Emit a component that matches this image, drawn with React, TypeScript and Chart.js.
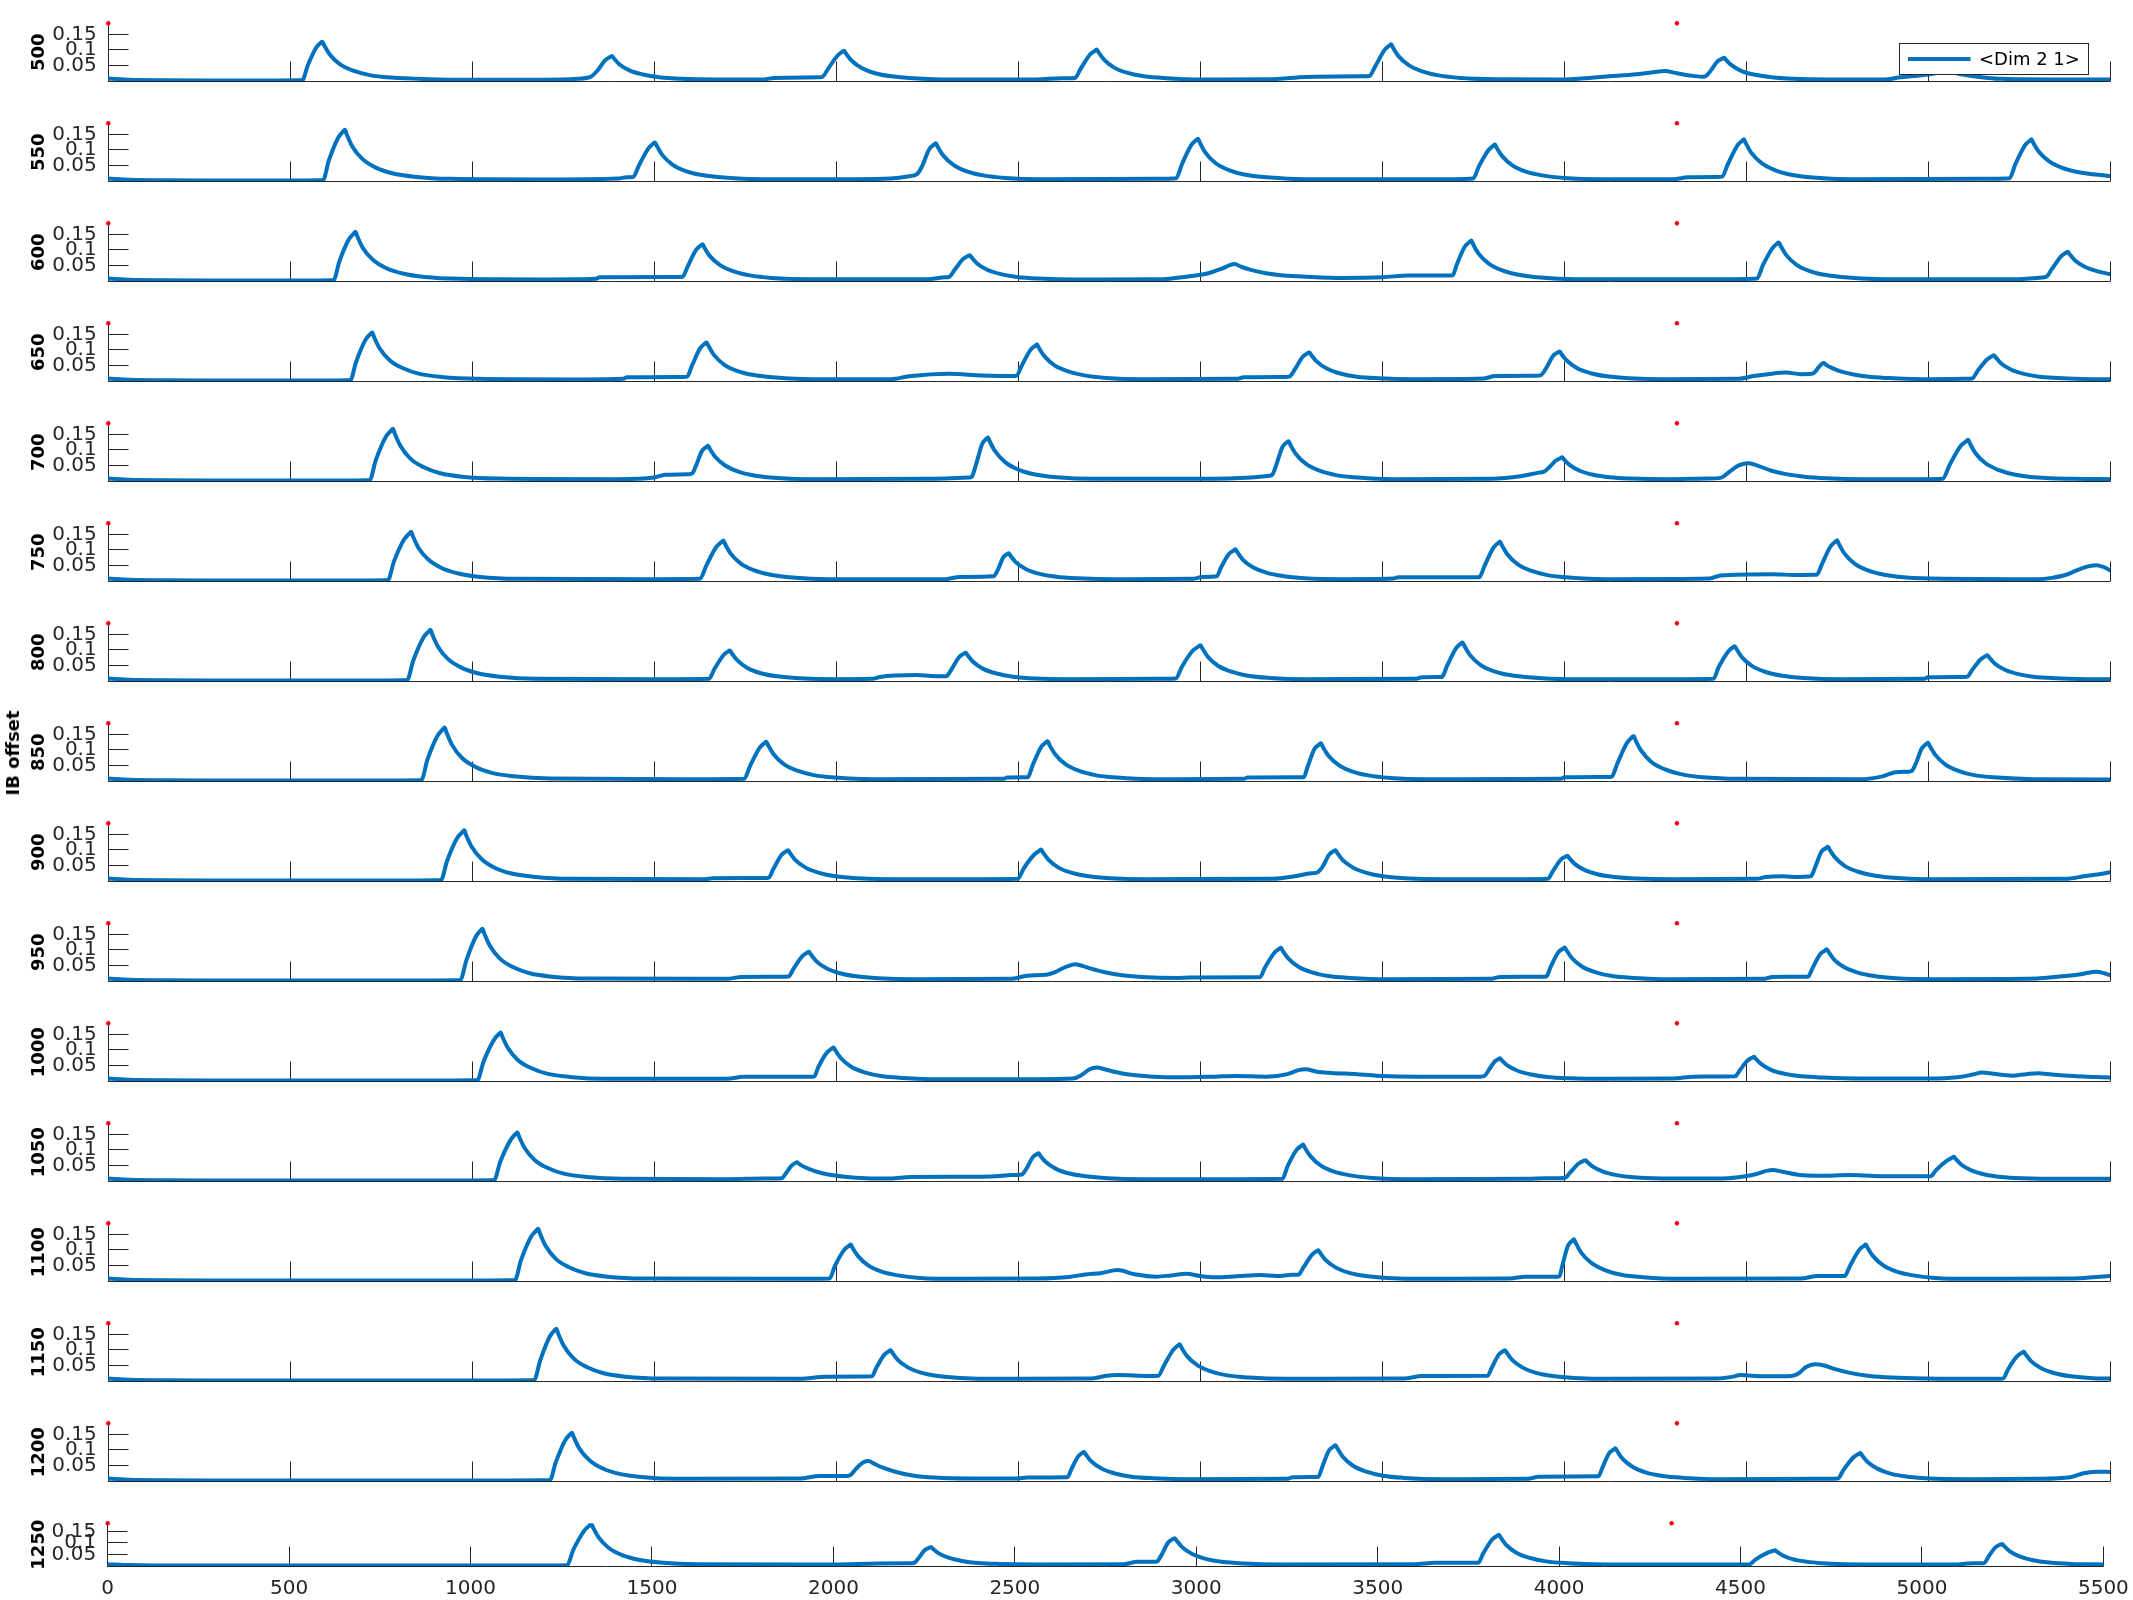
import React, { useEffect, useRef } from 'react';
import { Chart, registerables } from 'chart.js';

Chart.register(...registerables);

// ---------- data ----------
const PANEL_OFFSETS = [500, 550, 600, 650, 700, 750, 800, 850, 900, 950, 1000, 1050, 1100, 1150, 1200, 1250];
const X_TICKS = [0, 500, 1000, 1500, 2000, 2500, 3000, 3500, 4000, 4500, 5000, 5500];
const X_TICK_LABELS = ['0', '500', '1000', '1500', '2000', '2500', '3000', '3500', '4000', '4500', '5000', '5500'];
const Y_TICKS = [0.05, 0.1, 0.15];
const Y_TICK_LABELS = ['0.05', '0.1', '0.15'];
const X_MAX = 5500;
const Y_MAX = 0.1855;
const MARKER_X = [0, 4310];
const SERIES_NAME = '<Dim 2 1>';
const AXIS_TITLE = 'IB offset';

const S500 = [
[0,.008],[60,.004],[150,.0025],[300,.002],[470,.002],
[533,.003],[548,.05],[571,.107],[583,.122],[588,.126],[593,.115],[608,.086],[636,.054],[673,.033],[718,.019],[778,.011],[878,.006],
[1000,.004],[1200,.004],
[1290,.007],[1325,.013],[1345,.035],[1366,.068],[1379,.077],[1384,.080],[1389,.073],[1404,.054],[1432,.034],[1469,.021],[1514,.012],[1574,.007],[1674,.005],
[1800,.005],[1830,.010],[1955,.012],
[1962,.013],[1978,.04],[2004,.082],[2017,.094],[2022,.097],[2027,.088],[2042,.066],[2070,.042],[2107,.025],[2152,.015],[2212,.009],[2312,.005],
[2550,.005],[2620,.009],
[2656,.010],[2672,.04],[2698,.086],[2711,.097],[2716,.101],[2721,.092],[2736,.069],[2764,.043],[2801,.026],[2846,.015],[2906,.009],[3006,.005],
[3200,.006],[3290,.013],[3450,.015],
[3465,.016],[3481,.047],[3507,.1],[3520,.114],[3525,.118],[3530,.107],[3545,.08],[3573,.051],[3610,.031],[3655,.018],[3715,.010],[3815,.006],
[4000,.005],[4040,.007],
[4110,.014],[4200,.022],[4245,.028],[4276,.032],[4310,.025],[4345,.018],[4380,.014],
[4390,.016],[4404,.035],[4422,.064],[4435,.072],[4440,.075],[4445,.068],[4460,.051],[4488,.032],[4525,.02],[4570,.012],[4630,.007],[4730,.005],
[4880,.005],[4925,.012],[4960,.016],[5000,.021],[5050,.03],[5090,.022],[5120,.016],[5165,.01],[5200,.007],[5350,.005],[5500,.005]
];

const S550 = [
[0,.008],[60,.004],[150,.0025],[300,.002],[540,.002],
[590,.003],[606,.066],[632,.14],[645,.159],[650,.165],[655,.150],[670,.112],[698,.071],[735,.043],[780,.025],[840,.014],[940,.007],
[1200,.005],[1400,.008],[1425,.012],
[1442,.013],[1458,.05],[1484,.105],[1497,.12],[1502,.124],[1507,.113],[1522,.084],[1550,.053],[1587,.032],[1632,.019],[1692,.011],[1792,.006],
[2050,.006],[2150,.008],[2200,.015],[2222,.022],
[2235,.045],[2256,.103],[2269,.117],[2274,.121],[2279,.11],[2294,.082],[2322,.052],[2359,.031],[2404,.018],[2464,.01],[2564,.006],
[2880,.007],
[2934,.009],[2950,.054],[2976,.116],[2989,.131],[2994,.136],[2999,.124],[3014,.092],[3042,.058],[3079,.035],[3124,.020],[3184,.012],[3284,.006],
[3700,.006],
[3750,.008],[3766,.047],[3792,.099],[3805,.113],[3810,.117],[3815,.106],[3830,.08],[3858,.05],[3895,.03],[3940,.018],[4000,.01],[4100,.006],
[4300,.006],[4340,.012],[4420,.013],
[4434,.014],[4450,.054],[4476,.114],[4489,.129],[4494,.134],[4499,.122],[4514,.091],[4542,.058],[4579,.035],[4624,.02],[4684,.011],[4784,.006],
[5150,.007],
[5224,.009],[5240,.054],[5266,.114],[5279,.129],[5284,.134],[5289,.123],[5304,.095],[5332,.064],[5369,.042],[5414,.028],[5474,.019],[5500,.016]
];

const S600 = [
[0,.008],[60,.004],[150,.0025],[300,.002],[580,.002],
[619,.003],[635,.063],[661,.134],[674,.152],[679,.158],[684,.144],[699,.107],[727,.068],[764,.041],[809,.024],[869,.013],[969,.007],
[1200,.005],[1340,.007],[1350,.012],[1560,.013],
[1578,.014],[1592,.047],[1615,.1],[1628,.114],[1633,.118],[1638,.107],[1653,.08],[1681,.051],[1718,.031],[1763,.018],[1823,.01],[1923,.006],
[2250,.006],[2300,.012],
[2310,.013],[2325,.035],[2349,.071],[2362,.08],[2367,.083],[2372,.076],[2387,.056],[2415,.036],[2452,.022],[2497,.013],[2557,.008],[2657,.005],
[2900,.006],[2950,.012],[3020,.024],[3060,.04],
[3080,.05],[3094,.055],[3114,.045],[3142,.035],[3180,.025],[3230,.018],[3290,.014],[3390,.010],
[3500,.012],[3575,.018],[3690,.018],
[3695,.02],[3705,.052],[3727,.11],[3740,.125],[3745,.130],[3750,.118],[3765,.088],[3793,.056],[3830,.034],[3875,.02],[3935,.011],[4035,.006],
[4470,.006],
[4530,.008],[4546,.05],[4572,.105],[4585,.12],[4590,.124],[4595,.113],[4610,.084],[4638,.053],[4675,.032],[4720,.019],[4780,.011],[4880,.006],
[5250,.006],[5300,.010],
[5324,.013],[5340,.038],[5366,.08],[5379,.091],[5384,.094],[5389,.086],[5404,.066],[5432,.045],[5469,.03],[5500,.022]
];

const S650 = [
[0,.008],[60,.004],[150,.0025],[300,.002],[620,.002],
[665,.003],[681,.062],[707,.133],[720,.151],[725,.156],[730,.142],[745,.106],[773,.067],[810,.041],[855,.023],[915,.013],[1015,.007],
[1300,.005],[1415,.007],[1425,.012],[1580,.013],
[1590,.014],[1604,.05],[1626,.105],[1639,.12],[1644,.124],[1649,.113],[1664,.084],[1692,.053],[1729,.032],[1774,.019],[1834,.011],[1934,.006],
[2150,.006],[2200,.015],[2310,.023],[2400,.018],[2480,.016],
[2495,.017],[2510,.05],[2534,.1],[2547,.113],[2552,.117],[2557,.106],[2572,.08],[2600,.05],[2637,.031],[2682,.018],[2742,.01],[2842,.006],
[3100,.007],[3120,.012],[3235,.013],
[3245,.014],[3260,.037],[3282,.078],[3295,.089],[3300,.092],[3305,.084],[3320,.063],[3348,.04],[3385,.024],[3430,.014],[3490,.009],[3590,.006],
[3780,.008],[3810,.016],[3925,.017],
[3935,.018],[3950,.04],[3970,.081],[3983,.092],[3988,.095],[3993,.086],[4008,.065],[4036,.041],[4073,.025],[4118,.015],[4178,.009],[4278,.006],
[4480,.007],[4520,.016],[4560,.022],[4610,.027],[4650,.022],[4680,.023],
[4690,.03],[4700,.045],[4709,.056],[4714,.058],[4719,.053],[4734,.043],[4762,.03],[4799,.02],[4844,.013],[4904,.009],[5004,.006],
[5100,.007],
[5121,.008],[5137,.034],[5163,.07],[5176,.08],[5181,.083],[5186,.076],[5201,.056],[5229,.036],[5266,.022],[5311,.013],[5371,.009],[5471,.006],[5500,.006]
];

const S700 = [
[0,.008],[60,.004],[150,.0025],[300,.002],[680,.002],
[718,.003],[735,.067],[763,.143],[777,.162],[782,.168],[787,.153],[802,.114],[830,.072],[867,.044],[912,.025],[972,.014],[1072,.008],
[1400,.006],[1500,.011],[1530,.02],[1595,.022],
[1605,.025],[1615,.05],[1631,.096],[1643,.109],[1648,.113],[1653,.103],[1668,.077],[1696,.049],[1733,.029],[1778,.017],[1838,.01],[1938,.006],
[2250,.007],[2365,.011],
[2372,.013],[2385,.056],[2401,.119],[2412,.135],[2417,.140],[2422,.127],[2437,.095],[2465,.06],[2502,.036],[2547,.021],[2607,.012],[2707,.007],
[3000,.007],[3140,.011],[3190,.017],
[3198,.02],[3210,.055],[3226,.109],[3238,.124],[3243,.128],[3248,.116],[3263,.087],[3291,.055],[3328,.033],[3373,.019],[3433,.011],[3533,.006],
[3800,.007],[3880,.015],[3930,.027],
[3945,.03],[3960,.045],[3978,.066],[3990,.073],[3995,.076],[4000,.069],[4015,.052],[4043,.033],[4080,.02],[4125,.012],[4185,.008],[4285,.006],
[4394,.008],
[4430,.01],[4455,.03],[4480,.05],[4508,.057],[4535,.048],[4570,.033],[4610,.022],[4660,.014],[4720,.009],[4820,.006],
[4980,.006],
[5040,.007],[5060,.053],[5090,.113],[5105,.128],[5110,.133],[5115,.121],[5130,.09],[5158,.057],[5195,.035],[5240,.02],[5300,.011],[5400,.007],[5500,.006]
];

const S750 = [
[0,.008],[60,.004],[150,.0025],[300,.002],[720,.002],
[768,.003],[785,.063],[813,.134],[827,.152],[832,.158],[837,.144],[852,.107],[880,.068],[917,.041],[962,.024],[1022,.013],[1122,.007],
[1500,.006],
[1625,.007],[1644,.052],[1671,.11],[1685,.125],[1690,.130],[1695,.118],[1710,.088],[1738,.056],[1775,.034],[1820,.02],[1880,.011],[1980,.006],
[2300,.006],[2340,.013],
[2432,.015],[2445,.038],[2459,.076],[2469,.086],[2474,.089],[2479,.081],[2494,.06],[2522,.038],[2559,.023],[2604,.014],[2664,.009],[2764,.006],
[2980,.007],[3005,.013],
[3045,.015],[3058,.045],[3079,.087],[3092,.098],[3097,.102],[3102,.093],[3117,.069],[3145,.044],[3182,.027],[3227,.016],[3287,.009],[3387,.006],
[3530,.008],[3545,.012],[3765,.012],
[3768,.013],[3782,.05],[3806,.107],[3819,.122],[3824,.126],[3829,.115],[3844,.086],[3872,.054],[3909,.033],[3954,.019],[4014,.011],[4114,.006],
[4400,.008],[4430,.018],[4572,.022],[4640,.019],[4690,.02],
[4695,.021],[4708,.053],[4732,.111],[4745,.126],[4750,.131],[4755,.119],[4770,.089],[4798,.056],[4835,.034],[4880,.02],[4940,.011],[5040,.007],
[5300,.006],[5340,.01],
[5380,.02],[5410,.035],[5440,.047],[5463,.051],[5480,.046],[5500,.035]
];

const S800 = [
[0,.008],[60,.004],[150,.0025],[300,.002],[770,.002],
[821,.003],[838,.066],[866,.14],[880,.159],[885,.165],[890,.15],[905,.112],[933,.071],[970,.043],[1015,.025],[1075,.014],[1175,.007],
[1560,.006],
[1650,.007],[1666,.04],[1690,.083],[1703,.095],[1708,.098],[1713,.089],[1728,.067],[1756,.042],[1793,.025],[1838,.015],[1898,.009],[1998,.006],
[2100,.007],[2120,.013],[2221,.019],[2260,.016],[2300,.015],
[2305,.017],[2318,.04],[2338,.077],[2351,.088],[2356,.091],[2361,.083],[2376,.062],[2404,.039],[2441,.024],[2486,.014],[2546,.008],[2646,.006],
[2870,.007],
[2933,.008],[2950,.046],[2980,.098],[2996,.111],[3001,.115],[3006,.105],[3021,.078],[3049,.049],[3086,.03],[3131,.017],[3191,.01],[3291,.006],
[3590,.007],[3610,.012],[3660,.013],
[3665,.014],[3679,.05],[3703,.105],[3716,.12],[3721,.124],[3726,.113],[3741,.084],[3769,.053],[3806,.032],[3851,.019],[3911,.011],[4011,.006],
[4340,.006],
[4410,.007],[4425,.045],[4451,.095],[4464,.108],[4469,.112],[4474,.102],[4489,.076],[4517,.048],[4554,.029],[4599,.017],[4659,.01],[4759,.006],
[4990,.007],[5000,.012],[5100,.013],
[5108,.014],[5121,.035],[5145,.07],[5158,.08],[5163,.083],[5168,.076],[5183,.056],[5211,.036],[5248,.022],[5293,.013],[5353,.009],[5453,.006],[5500,.006]
];

const S850 = [
[0,.008],[60,.004],[150,.0025],[300,.002],[800,.002],
[860,.003],[877,.069],[905,.146],[919,.166],[924,.172],[929,.157],[944,.117],[972,.074],[1009,.045],[1054,.026],[1114,.015],[1214,.008],
[1650,.006],
[1747,.007],[1764,.05],[1790,.107],[1803,.122],[1808,.126],[1813,.115],[1828,.086],[1856,.054],[1893,.033],[1938,.019],[1998,.011],[2098,.006],
[2460,.007],[2470,.011],[2522,.012],
[2527,.013],[2540,.051],[2563,.109],[2576,.124],[2581,.128],[2586,.116],[2601,.087],[2629,.055],[2666,.033],[2711,.019],[2771,.011],[2871,.006],
[3120,.007],[3130,.011],[3280,.012],
[3285,.013],[3296,.048],[3314,.103],[3327,.117],[3332,.121],[3337,.11],[3352,.082],[3380,.052],[3417,.031],[3462,.018],[3522,.01],[3622,.006],
[3990,.007],[4002,.012],[4127,.013],
[4131,.014],[4147,.058],[4173,.123],[4186,.14],[4191,.145],[4196,.132],[4211,.099],[4239,.062],[4276,.038],[4321,.022],[4381,.012],[4481,.007],
[4820,.006],[4875,.015],[4910,.028],[4946,.03],
[4955,.032],[4966,.055],[4983,.105],[4995,.119],[5000,.123],[5005,.112],[5020,.084],[5048,.053],[5085,.032],[5130,.018],[5190,.011],[5290,.006],[5500,.005]
];

const S900 = [
[0,.008],[60,.004],[150,.0025],[300,.002],[850,.002],
[914,.003],[931,.065],[959,.139],[973,.157],[978,.163],[983,.148],[998,.111],[1026,.07],[1063,.042],[1108,.024],[1168,.014],[1268,.007],
[1640,.006],[1660,.009],[1810,.01],
[1815,.011],[1828,.04],[1850,.084],[1863,.096],[1868,.099],[1873,.09],[1888,.067],[1916,.043],[1953,.026],[1998,.015],[2058,.009],[2158,.006],
[2400,.006],
[2499,.007],[2515,.04],[2545,.086],[2558,.097],[2563,.101],[2568,.092],[2583,.069],[2611,.043],[2648,.026],[2693,.015],[2753,.009],[2853,.006],
[3200,.007],[3260,.015],[3300,.024],[3318,.026],
[3325,.03],[3336,.045],[3354,.084],[3367,.096],[3372,.099],[3377,.09],[3392,.067],[3420,.043],[3457,.026],[3502,.015],[3562,.009],[3662,.006],
[3900,.006],
[3955,.007],[3970,.033],[3991,.069],[4004,.078],[4009,.081],[4014,.074],[4029,.055],[4057,.035],[4094,.021],[4139,.013],[4199,.008],[4299,.006],
[4530,.007],[4554,.013],[4600,.015],[4643,.013],
[4678,.015],[4690,.045],[4707,.094],[4720,.106],[4725,.110],[4730,.1],[4745,.075],[4773,.047],[4810,.029],[4855,.017],[4915,.01],[5015,.006],
[5380,.007],[5427,.015],[5470,.022],[5500,.028]
];

const S950 = [
[0,.008],[60,.004],[150,.0025],[300,.002],[900,.002],
[967,.003],[984,.067],[1010,.143],[1023,.162],[1028,.168],[1033,.153],[1048,.114],[1076,.072],[1113,.044],[1158,.025],[1218,.014],[1318,.008],
[1700,.007],[1740,.013],[1865,.014],
[1870,.015],[1883,.04],[1907,.08],[1920,.091],[1925,.094],[1930,.086],[1945,.064],[1973,.041],[2010,.025],[2055,.015],[2115,.009],[2215,.006],
[2480,.007],[2524,.017],[2577,.02],[2600,.028],[2630,.045],
[2645,.051],[2656,.054],[2675,.049],[2700,.04],[2735,.029],[2780,.019],[2840,.013],[2940,.01],
[2970,.011],[3150,.012],
[3165,.013],[3178,.043],[3204,.091],[3217,.103],[3222,.107],[3227,.097],[3242,.073],[3270,.046],[3307,.028],[3352,.016],[3412,.01],[3512,.006],
[3800,.007],[3824,.013],[3949,.014],
[3952,.015],[3963,.045],[3984,.092],[3997,.104],[4002,.108],[4007,.098],[4022,.073],[4050,.046],[4087,.028],[4132,.016],[4192,.01],[4292,.006],
[4550,.007],[4572,.013],[4670,.014],
[4672,.015],[4683,.042],[4704,.087],[4717,.098],[4722,.102],[4727,.093],[4742,.069],[4770,.044],[4807,.027],[4852,.016],[4912,.009],[5012,.006],
[5300,.008],[5356,.014],[5420,.022],[5463,.03],[5500,.019]
];

const S1000 = [
[0,.008],[60,.004],[150,.0025],[300,.002],[950,.002],
[1014,.003],[1031,.062],[1060,.133],[1073,.151],[1078,.156],[1083,.142],[1098,.106],[1126,.067],[1163,.041],[1208,.023],[1268,.013],[1368,.007],
[1700,.007],[1747,.014],[1936,.014],
[1940,.015],[1951,.045],[1975,.092],[1988,.104],[1993,.108],[1998,.098],[2013,.073],[2041,.046],[2078,.028],[2123,.016],[2183,.01],[2283,.006],
[2550,.006],[2650,.008],
[2675,.02],[2695,.037],[2716,.043],[2740,.037],[2770,.028],[2810,.02],[2870,.014],[2960,.012],
[3040,.014],[3100,.016],[3183,.014],[3240,.022],[3270,.035],[3290,.038],[3320,.03],[3360,.026],[3432,.022],[3500,.016],[3600,.014],[3770,.014],
[3781,.016],[3793,.035],[3808,.061],[3819,.070],[3824,.073],[3829,.066],[3844,.05],[3872,.033],[3909,.021],[3954,.013],[4014,.009],[4114,.007],
[4300,.008],[4358,.014],[4470,.015],
[4472,.016],[4484,.036],[4504,.066],[4517,.075],[4522,.078],[4527,.071],[4542,.054],[4570,.035],[4607,.023],[4652,.015],[4712,.011],[4812,.008],
[5000,.008],[5080,.012],[5120,.02],[5149,.027],[5180,.023],[5231,.017],[5270,.022],[5302,.025],[5340,.021],[5400,.016],[5460,.013],[5500,.011]
];

const S1050 = [
[0,.008],[60,.004],[150,.0025],[300,.002],[1000,.002],
[1060,.003],[1077,.062],[1106,.133],[1119,.151],[1124,.156],[1129,.142],[1144,.106],[1172,.067],[1209,.041],[1254,.023],[1314,.013],[1414,.007],
[1700,.006],[1800,.008],
[1850,.009],[1862,.025],[1878,.05],[1888,.058],[1893,.060],[1898,.055],[1913,.045],[1941,.032],[1978,.021],[2023,.014],[2083,.009],[2150,.008],
[2203,.013],[2400,.014],[2450,.016],[2480,.019],[2505,.02],
[2512,.022],[2523,.04],[2540,.076],[2551,.086],[2556,.089],[2561,.081],[2576,.061],[2604,.039],[2641,.024],[2686,.015],[2746,.009],[2846,.006],
[3100,.006],
[3226,.007],[3240,.047],[3265,.1],[3278,.113],[3283,.117],[3288,.106],[3303,.08],[3331,.05],[3368,.03],[3413,.018],[3473,.01],[3573,.006],
[3900,.007],[3949,.009],
[4002,.01],[4017,.028],[4041,.057],[4054,.065],[4059,.067],[4064,.061],[4079,.046],[4107,.03],[4144,.019],[4189,.012],[4249,.009],[4349,.008],
[4450,.009],[4520,.02],[4572,.035],[4600,.03],[4643,.02],[4700,.017],[4786,.019],[4850,.016],[4964,.015],
[5007,.015],[5022,.035],[5053,.066],[5066,.075],[5071,.078],[5076,.071],[5091,.053],[5119,.034],[5156,.021],[5201,.013],[5261,.009],[5361,.007],[5500,.007]
];

const S1100 = [
[0,.008],[60,.004],[150,.0025],[300,.002],[1050,.002],
[1117,.003],[1134,.067],[1162,.143],[1176,.162],[1181,.168],[1186,.153],[1201,.114],[1229,.072],[1266,.044],[1311,.025],[1371,.014],[1471,.008],
[1850,.007],
[1982,.008],[1996,.047],[2022,.1],[2035,.113],[2040,.117],[2045,.106],[2060,.08],[2088,.05],[2125,.03],[2170,.018],[2230,.01],[2330,.007],
[2550,.008],[2640,.013],[2684,.021],[2730,.026],[2773,.035],[2820,.022],[2880,.014],[2920,.018],[2962,.023],[3000,.016],[3040,.012],[3100,.015],[3165,.019],[3210,.016],[3254,.02],
[3270,.02],[3283,.042],[3307,.084],[3320,.096],[3325,.099],[3330,.09],[3345,.067],[3373,.043],[3410,.026],[3455,.016],[3515,.01],[3615,.007],
[3850,.008],[3895,.014],[3984,.014],
[3987,.015],[3996,.054],[4011,.114],[4022,.129],[4027,.134],[4032,.122],[4047,.091],[4075,.058],[4112,.035],[4157,.02],[4217,.012],[4317,.007],
[4650,.008],[4697,.016],[4768,.016],
[4772,.017],[4785,.047],[4811,.1],[4824,.113],[4829,.117],[4834,.106],[4849,.08],[4877,.05],[4914,.03],[4959,.018],[5019,.01],[5119,.007],
[5400,.008],[5463,.013],[5500,.016]
];

const S1150 = [
[0,.008],[60,.004],[150,.0025],[300,.002],[1100,.002],
[1170,.003],[1187,.067],[1213,.143],[1226,.162],[1231,.168],[1236,.153],[1251,.114],[1279,.072],[1316,.044],[1361,.025],[1421,.014],[1521,.008],
[1900,.007],[1972,.014],
[2098,.015],[2110,.042],[2132,.084],[2145,.096],[2150,.099],[2155,.09],[2170,.067],[2198,.043],[2235,.026],[2280,.016],[2340,.01],[2440,.007],
[2700,.008],[2738,.016],[2773,.019],[2862,.016],
[2885,.017],[2900,.048],[2926,.1],[2939,.114],[2944,.118],[2949,.107],[2964,.08],[2992,.051],[3029,.031],[3074,.018],[3134,.011],[3234,.007],
[3560,.008],[3610,.016],
[3790,.017],[3801,.042],[3820,.084],[3833,.096],[3838,.099],[3843,.09],[3858,.067],[3886,.043],[3923,.026],[3968,.016],[4028,.01],[4128,.007],
[4420,.008],[4465,.014],[4483,.019],[4550,.015],[4625,.016],
[4645,.025],[4665,.045],[4689,.054],[4715,.05],[4745,.038],[4785,.026],[4840,.016],[4900,.011],[5000,.008],
[5140,.007],
[5206,.008],[5220,.038],[5245,.08],[5258,.091],[5263,.094],[5268,.086],[5283,.064],[5311,.041],[5348,.025],[5393,.015],[5453,.009],[5500,.008]
];

const S1200 = [
[0,.008],[60,.004],[150,.0025],[300,.002],[1100,.002],
[1213,.003],[1230,.062],[1256,.132],[1269,.15],[1274,.155],[1279,.141],[1294,.105],[1322,.067],[1359,.04],[1404,.023],[1464,.013],[1564,.007],
[1900,.008],[1954,.016],[2025,.016],
[2040,.02],[2055,.04],[2075,.06],[2089,.064],[2105,.055],[2130,.042],[2165,.029],[2210,.018],[2270,.011],[2370,.008],
[2500,.008],[2524,.011],[2631,.012],
[2636,.013],[2647,.04],[2665,.079],[2676,.09],[2681,.093],[2686,.085],[2701,.063],[2729,.04],[2766,.024],[2811,.014],[2871,.009],[2971,.006],
[3240,.007],[3254,.012],[3320,.013],
[3325,.014],[3336,.047],[3354,.098],[3367,.111],[3372,.115],[3377,.105],[3392,.078],[3420,.049],[3457,.03],[3502,.017],[3562,.01],[3662,.006],
[3900,.007],[3931,.014],[4091,.015],
[4095,.016],[4106,.045],[4124,.09],[4136,.101],[4141,.105],[4146,.096],[4161,.071],[4189,.045],[4226,.027],[4271,.016],[4331,.01],[4431,.006],
[4690,.007],
[4752,.008],[4768,.036],[4796,.077],[4809,.087],[4814,.090],[4819,.082],[4834,.061],[4862,.039],[4899,.023],[4944,.014],[5004,.008],[5104,.006],
[5300,.007],[5391,.012],[5427,.025],[5460,.03],[5500,.029]
];

const S1250 = [
[0,.008],[60,.004],[150,.0025],[300,.002],[1200,.002],
[1265,.003],[1284,.073],[1314,.155],[1328,.176],[1333,.182],[1338,.166],[1353,.124],[1381,.078],[1418,.047],[1463,.027],[1523,.015],[1623,.008],
[2000,.007],[2123,.011],[2212,.012],
[2222,.013],[2235,.035],[2252,.07],[2264,.079],[2269,.082],[2274,.075],[2289,.056],[2317,.036],[2354,.022],[2399,.013],[2459,.009],[2559,.007],
[2800,.008],[2837,.018],[2891,.019],
[2893,.02],[2905,.05],[2923,.103],[2936,.117],[2941,.121],[2946,.11],[2961,.082],[2989,.052],[3026,.031],[3071,.018],[3131,.011],[3231,.007],
[3600,.008],[3659,.014],[3775,.014],
[3778,.015],[3791,.055],[3816,.116],[3829,.131],[3834,.136],[3839,.124],[3854,.092],[3882,.058],[3919,.035],[3964,.02],[4024,.012],[4124,.007],
[4460,.006],
[4524,.007],[4540,.027],[4575,.058],[4590,.066],[4595,.068],[4600,.062],[4615,.047],[4643,.03],[4680,.019],[4725,.012],[4785,.008],[4885,.006],
[5100,.007],[5124,.011],[5168,.012],
[5172,.013],[5183,.04],[5203,.082],[5216,.093],[5221,.096],[5226,.087],[5241,.065],[5269,.042],[5306,.025],[5351,.015],[5411,.009],[5500,.007]
];

const SERIES = [S500, S550, S600, S650, S700, S750, S800, S850, S900, S950, S1000, S1050, S1100, S1150, S1200, S1250];

// ---------- styling / layout ----------
const LINE_COLOR = '#0072BD';
const AXIS_COLOR = '#262626';
const FONT = "'DejaVu Sans'";
const PAGE_W = 2133;
const TICK_LEN = 20;

const snap = (v: number) => Math.floor(v) + 0.5;

const axesPlugin = {
  id: 'matlabAxes',
  beforeDatasetsDraw(chart: any) {
    const { ctx } = chart;
    const x = chart.scales.x;
    const y = chart.scales.y;
    const x0 = snap(x.getPixelForValue(0));
    const x1 = x.getPixelForValue(X_MAX);
    const yb = snap(y.getPixelForValue(0));
    const yt = y.getPixelForValue(Y_MAX);
    ctx.save();
    ctx.strokeStyle = AXIS_COLOR;
    ctx.lineWidth = 1;
    ctx.beginPath();
    ctx.moveTo(x0, yt);
    ctx.lineTo(x0, yb);
    ctx.lineTo(x1, yb);
    for (const v of Y_TICKS) {
      const p = snap(y.getPixelForValue(v));
      ctx.moveTo(x0, p);
      ctx.lineTo(x0 + TICK_LEN, p);
    }
    for (const v of X_TICKS) {
      const p = snap(x.getPixelForValue(v));
      ctx.moveTo(p, yb);
      ctx.lineTo(p, yb - TICK_LEN);
    }
    ctx.stroke();
    ctx.restore();
  },
};

const legendPlugin = {
  id: 'boxLegend',
  afterDraw(chart: any) {
    const { ctx, chartArea } = chart;
    const right = Math.round(chartArea.right - 20.7);
    const left = right - 190;
    const top = Math.round(chartArea.top + 20);
    const h = 32;
    const cy = top + h / 2;
    ctx.save();
    ctx.fillStyle = '#ffffff';
    ctx.fillRect(left, top, right - left, h);
    ctx.strokeStyle = AXIS_COLOR;
    ctx.lineWidth = 1;
    ctx.strokeRect(left + 0.5, top + 0.5, right - left - 1, h - 1);
    ctx.strokeStyle = LINE_COLOR;
    ctx.lineWidth = 4;
    ctx.beginPath();
    ctx.moveTo(left + 9, cy);
    ctx.lineTo(left + 71.5, cy);
    ctx.stroke();
    ctx.fillStyle = '#000000';
    ctx.font = `18px ${FONT}`;
    ctx.textBaseline = 'middle';
    ctx.textAlign = 'left';
    ctx.fillText(SERIES_NAME, left + 80, cy + 1);
    ctx.restore();
  },
};

function Panel({ index }: { index: number }) {
  const ref = useRef<HTMLCanvasElement | null>(null);
  const last = index === SERIES.length - 1;
  const top = 9 + 100 * index;
  const height = last ? 91 : 86;

  useEffect(() => {
    const canvas = ref.current;
    if (!canvas) return;
    const yWidth = last ? 107.7 : 108.3;
    const rightPad = last ? PAGE_W - 2103.4 : PAGE_W - 2110;
    const chart = new Chart(canvas, {
      type: 'line',
      data: {
        datasets: [
          {
            data: SERIES[index].map(([x, y]) => ({ x, y })),
            borderColor: LINE_COLOR,
            backgroundColor: LINE_COLOR,
            borderWidth: 4,
            pointRadius: 0,
            pointHoverRadius: 0,
            fill: false,
            cubicInterpolationMode: 'monotone',
            borderJoinStyle: 'round',
            borderCapStyle: 'round',
            order: 2,
          },
          {
            data: MARKER_X.map((x) => ({ x, y: Y_MAX })),
            showLine: false,
            pointRadius: 2.2,
            pointHoverRadius: 2.2,
            pointBackgroundColor: '#ff0000',
            pointBorderColor: '#ff0000',
            pointBorderWidth: 0,
            borderColor: '#ff0000',
            clip: false,
            order: 1,
          },
        ],
      } as any,
      options: {
        animation: false,
        responsive: false,
        events: [],
        layout: { padding: { left: 0, right: rightPad, top: 14.3, bottom: last ? 0 : 14 } },
        plugins: { legend: { display: false }, tooltip: { enabled: false } },
        scales: {
          x: {
            type: 'linear',
            min: 0,
            max: X_MAX,
            display: last,
            afterBuildTicks: (s: any) => {
              s.ticks = X_TICKS.map((v) => ({ value: v }));
            },
            afterFit: (s: any) => {
              s.height = last ? 34 : 0;
              s.paddingLeft = 0;
              s.paddingRight = 0;
            },
            grid: { display: false, drawTicks: false },
            border: { display: false },
            ticks: {
              autoSkip: false,
              maxRotation: 0,
              minRotation: 0,
              padding: 11,
              color: AXIS_COLOR,
              font: { family: FONT, size: 20 },
              callback: (v: any) => X_TICK_LABELS[X_TICKS.indexOf(Number(v))] ?? '',
            },
          },
          y: {
            type: 'linear',
            min: 0,
            max: Y_MAX,
            afterBuildTicks: (s: any) => {
              s.ticks = Y_TICKS.map((v) => ({ value: v }));
            },
            afterFit: (s: any) => {
              s.width = yWidth;
              s.paddingTop = 0;
              s.paddingBottom = 0;
            },
            grid: { display: false, drawTicks: false },
            border: { display: false },
            ticks: {
              autoSkip: false,
              padding: 11.6,
              color: AXIS_COLOR,
              font: { family: FONT, size: 20 },
              callback: (v: any) => Y_TICK_LABELS[Y_TICKS.indexOf(Number(v))] ?? '',
            },
            title: {
              display: true,
              text: String(PANEL_OFFSETS[index]),
              color: '#000000',
              font: { family: FONT, size: 18, weight: 'bold' },
              padding: { top: 28.2, bottom: 0 },
            },
          },
        },
      } as any,
      plugins: index === 0 ? [axesPlugin, legendPlugin] : [axesPlugin],
    });
    return () => chart.destroy();
  }, [index, last]);

  return (
    <canvas
      ref={ref}
      width={PAGE_W}
      height={height}
      style={{ position: 'absolute', left: 0, top, width: PAGE_W, height, display: 'block' }}
    />
  );
}

export default function App() {
  return (
    <div style={{ position: 'absolute', left: 0, top: 0, width: PAGE_W, height: 1600, background: '#fff', overflow: 'hidden' }}>
      {SERIES.map((_, i) => (
        <Panel key={PANEL_OFFSETS[i]} index={i} />
      ))}
      <div
        style={{
          position: 'absolute',
          left: 12.5,
          top: 753,
          transform: 'translate(-50%, -50%) rotate(-90deg)',
          font: `bold 18px ${FONT}`,
          color: '#000',
          whiteSpace: 'nowrap',
          lineHeight: 1,
        }}
      >
        {AXIS_TITLE}
      </div>
    </div>
  );
}
